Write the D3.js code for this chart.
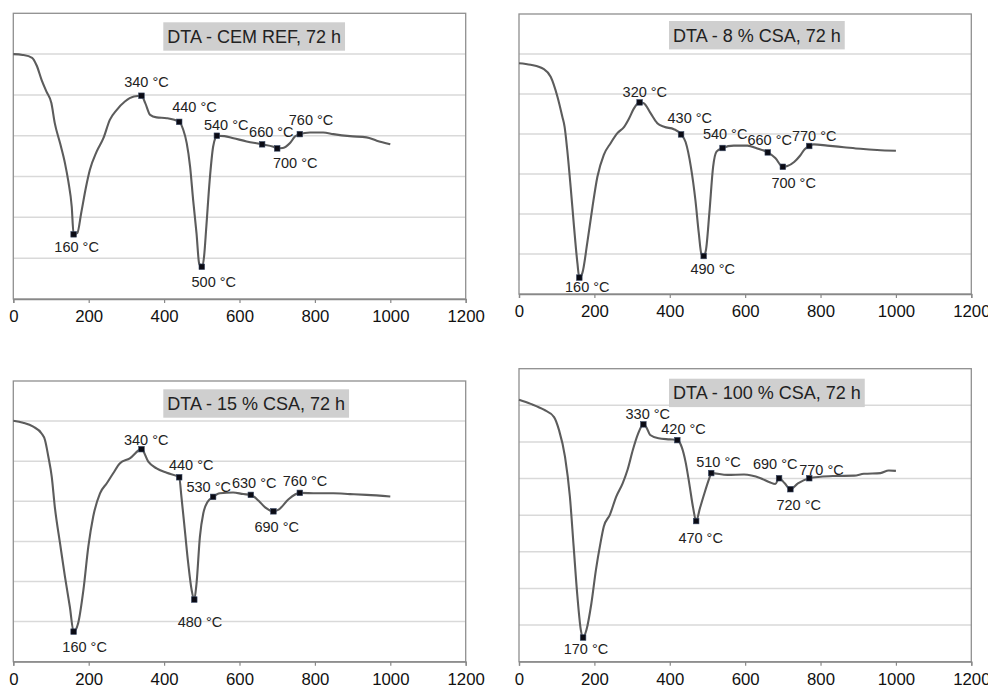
<!DOCTYPE html>
<html>
<head>
<meta charset="utf-8">
<script src="https://cdn.jsdelivr.net/npm/d3@7"></script>
<style>
  html, body { margin: 0; padding: 0; background: #fff; }
  svg { display: block; font-family: "Liberation Sans", Arial, sans-serif; }
</style>
</head>
<body>
<svg id="chart" width="988" height="686"></svg>
<script>
// DTA curves (arbitrary signal units, one unit per gridline) vs temperature in °C
const temps1 = [0,25,50,62,75,88,101,110,124,137,146,155,160,170,180,193,203,221,239,256,274,296,320,340,350,363,380,407,440,451,460,469,477,486,493,500,506,512,521,530,536,540,560,584,619,660,690,700,715,734,747,760,787,822,849,893,937,964,1000];
const signal1 = [6.00,5.98,5.91,5.72,5.37,5.08,4.80,4.31,3.82,3.33,2.88,2.26,1.585,1.62,2.10,2.75,3.16,3.61,3.94,4.39,4.63,4.84,4.96,4.98,4.80,4.51,4.45,4.43,4.34,4.14,3.82,3.24,2.43,1.61,0.87,0.79,1.04,1.77,2.92,3.73,3.95,4.00,3.99,3.94,3.86,3.79,3.73,3.69,3.70,3.82,3.98,4.04,4.08,4.08,4.04,3.99,3.96,3.88,3.79];
const peaks1 = [160,340,440,500,540,660,700,760];

const temps2 = [0,31,66,84,102,115,121,128,137,146,155,160,168,181,195,208,225,243,261,279,292,305,320,331,349,367,385,411,430,442,456,468,477,484,490,496,505,515,524,540,570,606,632,660,680,700,712,730,745,758,770,782,818,862,906,950,1000];
const signal2 = [5.77,5.73,5.62,5.43,4.93,4.43,4.18,3.60,2.68,1.68,0.77,0.41,0.52,1.27,2.18,2.93,3.48,3.77,4.02,4.18,4.39,4.64,4.79,4.77,4.52,4.27,4.18,4.12,3.99,3.80,3.18,2.35,1.52,1.00,0.95,1.10,2.02,3.18,3.56,3.65,3.71,3.71,3.64,3.54,3.40,3.18,3.20,3.30,3.45,3.62,3.70,3.74,3.71,3.67,3.63,3.60,3.58];
const peaks2 = [160,320,430,490,540,660,700,770];

const temps3 = [0,26,53,75,84,93,102,110,124,137,150,160,172,186,199,212,230,248,265,283,309,340,358,380,407,440,446,455,464,473,480,486,495,504,515,530,548,583,610,630,650,668,690,705,730,760,805,849,893,937,1000];
const signal3 = [6.01,5.96,5.86,5.69,5.53,5.11,4.61,3.87,2.95,2.12,1.37,0.75,0.96,1.79,2.87,3.62,4.20,4.45,4.70,4.95,5.07,5.30,4.99,4.82,4.71,4.60,4.11,3.28,2.45,1.79,1.55,1.95,3.12,3.70,3.98,4.11,4.20,4.22,4.18,4.16,4.02,3.85,3.75,3.80,4.05,4.21,4.20,4.20,4.18,4.16,4.12];
const peaks3 = [160,340,440,480,530,630,690,760];

const temps4 = [0,31,66,93,106,122,135,145,155,164,170,179,192,204,216,225,241,258,275,288,302,315,330,338,348,370,400,420,432,442,452,462,470,480,492,505,510,553,597,641,665,680,690,705,720,740,770,800,836,889,915,959,981,1000];
const signal4 = [7.15,7.04,6.88,6.68,6.33,5.60,4.51,3.14,1.78,0.87,0.66,0.87,1.59,2.50,3.23,3.69,4.01,4.51,4.87,5.24,5.78,6.20,6.48,6.40,6.19,6.10,6.07,6.05,5.85,5.45,4.85,4.20,3.84,4.19,4.60,5.01,5.15,5.10,5.11,5.01,4.90,4.85,5.01,4.87,4.71,4.87,5.01,5.05,5.07,5.08,5.13,5.15,5.22,5.21];
const peaks4 = [170,330,420,470,510,690,720,770];

const titles = ["DTA - CEM REF, 72 h", "DTA - 8 % CSA, 72 h", "DTA - 15 % CSA, 72 h", "DTA - 100 % CSA, 72 h"];
const xTicks = [0,200,400,600,800,1000,1200];

// Layout: plot rectangles, gridline counts and label placement (px, relative to marker)
const layout = [
  { left: 13.3, top: 13.3, right: 465.7, bottom: 299,   grid: 7, titleTop: 22.3,
    labelOffsets: [[3,12.4],[5,-13.5],[15.3,-15.2],[12,15],[9.3,-10.8],[9.2,-12],[18,15],[11.2,-14.2]] },
  { left: 519,  top: 14,   right: 971.3, bottom: 294,   grid: 7, titleTop: 21,
    labelOffsets: [[8,9.7],[5.2,-10.7],[8.7,-16],[9,13.3],[2.6,-14],[1.9,-12.4],[10.8,16.5],[5,-10]] },
  { left: 13.3, top: 381,  right: 465.7, bottom: 661.7, grid: 7, titleTop: 389.3,
    labelOffsets: [[11,15],[4.7,-9.2],[12,-12.2],[5.7,22.5],[-4.4,-10.2],[3.4,-11.6],[3.3,16],[5.2,-12.2]] },
  { left: 519,  top: 368.7, right: 971.3, bottom: 661.7, grid: 8, titleTop: 378.7,
    labelOffsets: [[2.9,11.8],[4.4,-10.5],[6.2,-11.3],[4.5,17.2],[7.2,-10.9],[-3.9,-14.3],[8.3,15.7],[12.2,-8.3]] }
];

const series = [
  { temps: temps1, signal: signal1, peaks: peaks1 },
  { temps: temps2, signal: signal2, peaks: peaks2 },
  { temps: temps3, signal: signal3, peaks: peaks3 },
  { temps: temps4, signal: signal4, peaks: peaks4 }
];

const svg = d3.select("#chart");

series.forEach((s, i) => {
  const L = layout[i];
  const x = d3.scaleLinear().domain([0, 1200]).range([L.left, L.right]);
  const y = d3.scaleLinear().domain([0, L.grid]).range([L.bottom, L.top]);
  const g = svg.append("g");

  // horizontal gridlines
  g.selectAll("line.grid")
    .data(d3.range(1, L.grid))
    .join("line")
    .attr("class", "grid")
    .attr("x1", L.left).attr("x2", L.right)
    .attr("y1", d => y(d)).attr("y2", d => y(d))
    .attr("stroke", "#d9d9d9").attr("stroke-width", 1.5);

  // plot frame
  g.append("rect")
    .attr("x", L.left).attr("y", L.top)
    .attr("width", L.right - L.left).attr("height", L.bottom - L.top)
    .attr("fill", "none").attr("stroke", "#8f8f8f").attr("stroke-width", 1.3);

  // x axis
  const ax = g.append("g")
    .attr("transform", `translate(0,${L.bottom})`)
    .call(d3.axisBottom(x).tickValues(xTicks).tickSize(4).tickFormat(d3.format("d")));
  ax.select(".domain").attr("stroke", "#888").attr("stroke-width", 1.3);
  ax.selectAll(".tick line").attr("stroke", "#888").attr("stroke-width", 1.2);
  ax.selectAll(".tick text")
    .attr("y", 17).attr("dy", "0.35em")
    .attr("fill", "#111")
    .style("font-size", "16.8px")
    .style("font-family", "'Liberation Sans', Arial, sans-serif");

  // title box
  const tg = g.append("g");
  const tt = tg.append("text")
    .attr("x", L.left + 154)
    .attr("y", L.titleTop + 14.2)
    .attr("dy", "0.35em")
    .attr("fill", "#222")
    .style("font-size", "18px")
    .text(titles[i]);
  const tw = tt.node().getComputedTextLength();
  tg.insert("rect", "text")
    .attr("x", L.left + 150).attr("y", L.titleTop)
    .attr("width", tw + 8).attr("height", 28.4)
    .attr("fill", "#cfcfcf");

  // curve
  const pts = s.temps.map((t, k) => [t, s.signal[k]]);
  g.append("path")
    .datum(pts)
    .attr("fill", "none")
    .attr("stroke", "#5c5c5c")
    .attr("stroke-width", 2.1)
    .attr("stroke-linejoin", "round")
    .attr("d", d3.line().x(d => x(d[0])).y(d => y(d[1])).curve(d3.curveMonotoneX));

  // peak markers and their temperature labels
  const marks = s.peaks.map((t, k) => {
    const idx = s.temps.indexOf(t);
    return { t, v: s.signal[idx], off: L.labelOffsets[k] };
  });
  g.selectAll("rect.mark")
    .data(marks)
    .join("rect")
    .attr("class", "mark")
    .attr("x", d => x(d.t) - 2.8).attr("y", d => y(d.v) - 2.8)
    .attr("width", 5.6).attr("height", 5.6)
    .attr("fill", "#0b0b14").attr("stroke", "#3a4a66").attr("stroke-width", 0.6);
  g.selectAll("text.peak")
    .data(marks)
    .join("text")
    .attr("class", "peak")
    .attr("x", d => x(d.t) + d.off[0])
    .attr("y", d => y(d.v) + d.off[1])
    .attr("dy", "0.35em")
    .attr("text-anchor", "middle")
    .attr("fill", "#222")
    .style("font-size", "14.5px")
    .text(d => `${d.t} °C`);
});
</script>
</body>
</html>
